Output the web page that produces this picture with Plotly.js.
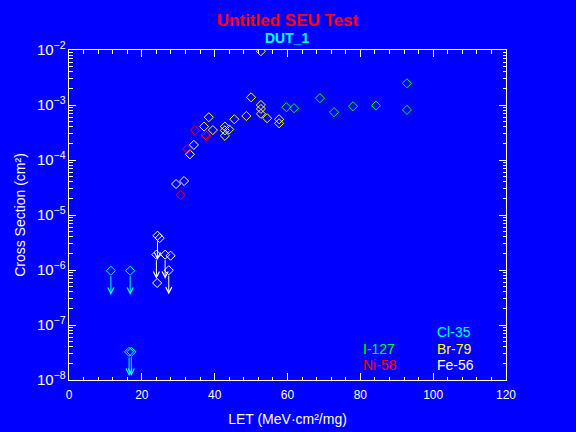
<!DOCTYPE html>
<html>
<head>
<meta charset="utf-8">
<script src="https://cdn.plot.ly/plotly-3.0.1.min.js"></script>
<style>html,body{margin:0;padding:0;background:#0000ff;}#chart{width:576px;height:432px;}</style>
</head>
<body>
<div id="chart"></div>
<script>
// ---- data ----
const ionNames = ['Cl-35', 'Br-79', 'Fe-56', 'I-127', 'Ni-58'];
const ionColors = ['#00ffff', '#ffff00', '#ffffff', '#00ff00', '#ff0000'];

const cl35Let   = [11.5, 16.8, 16.5, 17.1];
const cl35Xs    = [9.7e-7, 9.7e-7, 3.25e-8, 3.25e-8];
const cl35Limit = [1, 1, 1, 1];

const br79Let   = [52.7, 38.4, 37.1, 39.5, 42.8, 42.8, 44.0, 42.8, 45.4, 48.7, 50.0, 52.7, 52.7, 52.7, 54.4, 57.7, 57.7];
const br79Xs    = [9.5e-3, 6.0e-4, 4.05e-4, 3.5e-4, 4.05e-4, 3.45e-4, 3.6e-4, 2.75e-4, 5.5e-4, 6.3e-4, 1.38e-3, 1.0e-3, 8.5e-4, 6.9e-4, 5.75e-4, 5.5e-4, 4.65e-4];
const br79Limit = [0, 0, 0, 0, 0, 0, 0, 0, 0, 0, 0, 0, 0, 0, 0, 0, 0];

const fe56Let   = [29.4, 31.6, 34.3, 33.2, 24.3, 24.9, 24.0, 26.4, 27.9, 27.4, 24.2];
const fe56Xs    = [3.66e-5, 4.15e-5, 1.88e-4, 1.27e-4, 4.2e-6, 3.8e-6, 1.9e-6, 1.9e-6, 1.82e-6, 9.9e-7, 5.8e-7];
const fe56Limit = [0, 0, 0, 0, 1, 0, 1, 1, 0, 1, 0];

const i127Let   = [59.7, 61.8, 68.9, 72.8, 78.0, 84.3, 92.8, 92.8];
const i127Xs    = [9.1e-4, 8.75e-4, 1.33e-3, 7.4e-4, 9.5e-4, 9.75e-4, 2.48e-3, 8.15e-4];
const i127Limit = [0, 0, 0, 0, 0, 0, 0, 0];

const ni58Let   = [30.7, 32.45, 34.6, 37.5, 37.8];
const ni58Xs    = [2.3e-5, 1.58e-4, 3.48e-4, 2.85e-4, 2.72e-4];
const ni58Limit = [0, 0, 0, 0, 0];

const xTickVals = [0, 20, 40, 60, 80, 100, 120];

const series = [
  {name: ionNames[0], color: ionColors[0], x: cl35Let, y: cl35Xs, lim: cl35Limit},
  {name: ionNames[1], color: ionColors[1], x: br79Let, y: br79Xs, lim: br79Limit},
  {name: ionNames[2], color: ionColors[2], x: fe56Let, y: fe56Xs, lim: fe56Limit},
  {name: ionNames[3], color: ionColors[3], x: i127Let, y: i127Xs, lim: i127Limit},
  {name: ionNames[4], color: ionColors[4], x: ni58Let, y: ni58Xs, lim: ni58Limit}
];

const FONT = 'Liberation Sans, Arial, sans-serif';
const ARROW_DECADES = 0.44;

const traces = series.map(s => ({
  type: 'scatter', mode: 'markers', name: s.name,
  x: s.x, y: s.y,
  marker: {symbol: 'diamond-open', size: 7, color: s.color, line: {width: 1, color: s.color}},
  showlegend: false, hoverinfo: 'skip'
}));

const annotations = [];
// upper-limit arrows
series.forEach(s => {
  s.x.forEach((xv, i) => {
    if (!s.lim[i]) return;
    const ly = Math.log10(s.y[i]);
    annotations.push({
      x: xv, y: ly - ARROW_DECADES, xref: 'x', yref: 'y',
      ax: xv, ay: ly, axref: 'x', ayref: 'y',
      text: '', showarrow: true, arrowhead: 5, arrowsize: 1.2, arrowwidth: 1,
      arrowcolor: s.color, startstandoff: 4, standoff: 0
    });
  });
});

// ion key (two columns inside the plot)
const keyPos = {
  'Cl-35': [0.838, 0.146], 'Br-79': [0.838, 0.095], 'Fe-56': [0.838, 0.046],
  'I-127': [0.669, 0.095], 'Ni-58': [0.669, 0.046]
};
series.forEach(s => {
  const p = keyPos[s.name];
  annotations.push({
    xref: 'paper', yref: 'paper', x: p[0], y: p[1], xanchor: 'left', yanchor: 'middle',
    text: s.name, showarrow: false, font: {family: FONT, size: 14, color: s.color}
  });
});
// subtitle
annotations.push({
  xref: 'paper', yref: 'paper', x: 0.5, y: 1, yshift: 12, xanchor: 'center', yanchor: 'middle',
  text: '<b>DUT_1</b>', showarrow: false, font: {family: FONT, size: 14, color: '#00ffff'}
});

const axisCommon = {
  showline: true, linecolor: '#ffffff', linewidth: 1, mirror: 'allticks',
  ticks: 'inside', tickcolor: '#ffffff', tickwidth: 1, ticklen: 7,
  showgrid: false, zeroline: false,
  tickfont: {family: FONT, size: 12, color: '#ffffff'}
};

const layout = {
  width: 576, height: 432,
  paper_bgcolor: '#0000ff', plot_bgcolor: '#0000ff',
  margin: {l: 69, r: 70, t: 50, b: 52},
  title: {text: '<b>Untitled SEU Test</b>', x: 0.5, xref: 'paper', y: 0.953, yanchor: 'middle',
          font: {family: FONT, size: 17, color: '#ff0000'}},
  xaxis: Object.assign({}, axisCommon, {
    range: [0, 120], tickvals: xTickVals, ticktext: xTickVals.map(String),
    ticklabelstandoff: 4,
    minor: {ticks: 'inside', ticklen: 3.5, tickcolor: '#ffffff', tickwidth: 1, dtick: 4, showgrid: false},
    title: {text: 'LET (MeV·cm²/mg)', font: {family: FONT, size: 14, color: '#ffffff'}, standoff: 12}
  }),
  yaxis: Object.assign({}, axisCommon, {
    type: 'log', range: [-8, -2], dtick: 1, exponentformat: 'power',
    minor: {ticks: 'inside', ticklen: 3.5, tickcolor: '#ffffff', tickwidth: 1, dtick: 'D1', showgrid: false},
    title: {text: 'Cross Section (cm²)', font: {family: FONT, size: 14, color: '#ffffff'}, standoff: 8}
  }),
  annotations: annotations,
  showlegend: false
};

Plotly.newPlot('chart', traces, layout, {displayModeBar: false, staticPlot: true});
</script>
</body>
</html>
